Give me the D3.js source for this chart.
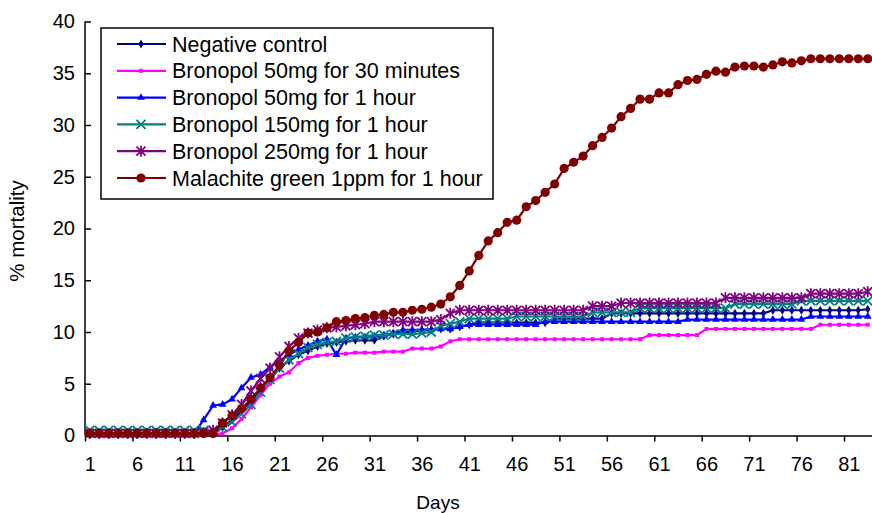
<!DOCTYPE html>
<html>
<head>
<meta charset="utf-8">
<script src="https://cdn.jsdelivr.net/npm/d3@7"></script>
<style>
  body { margin: 0; background: #fff; }
  svg { display: block; font-family: "Liberation Sans", Arial, sans-serif; }
  .axis path, .axis line { stroke: #000; stroke-width: 1.5; }
  .axis text { font-size: 20px; fill: #000; }
  .label { font-size: 19px; fill: #000; }
  .legend text { font-size: 21.5px; fill: #000; }
</style>
</head>
<body>
<div id="chart"></div>
<script>
// categories
let days = d3.range(1, 84);
let xLabels = [1, 6, 11, 16, 21, 26, 31, 36, 41, 46, 51, 56, 61, 66, 71, 76, 81];
let yTicks = [0, 5, 10, 15, 20, 25, 30, 35, 40];

let seriesNames = ["Negative control", "Bronopol 50mg for 30 minutes", "Bronopol 50mg for 1 hour",
    "Bronopol 150mg for 1 hour", "Bronopol 250mg for 1 hour", "Malachite green 1ppm for 1 hour"];

let negControl = [0.2,0.2,0.2,0.2,0.2,0.2,0.2,0.2,0.2,0.2,0.2,0.2,0.2,0.2,
    0.8,1.5,2.4,3.3,4.4,5.4,6.5,7.2,7.8,8.2,8.6,8.9,9.0,9.1,9.2,9.2,
    9.2,9.6,9.8,10.0,10.0,10.2,10.2,10.3,10.3,10.5,10.7,
    10.9,10.9,10.9,10.9,10.9,10.9,10.9,10.9,
    11.3,11.3,11.3,11.3,11.3,11.3,
    11.8,11.8,11.8,11.8,11.8,11.8,11.8,11.8,11.8,11.8,11.8,11.8,11.8,11.8,11.8,11.8,11.8,
    12.1,12.1,12.1,12.1,12.1,12.1,12.1,12.1,12.1,12.1,12.2];

let bro50_30 = [0.1,0.1,0.1,0.1,0.1,0.1,0.1,0.1,0.1,0.1,0.1,0.1,0.1,0.1,
    0.2,0.7,1.6,2.7,3.9,5.0,5.7,6.1,7.0,7.5,7.7,7.8,7.9,7.9,8.0,8.0,
    8.0,8.1,8.1,8.1,8.4,8.4,8.4,8.6,9.1,
    9.3,9.3,9.3,9.3,9.3,9.3,9.3,9.3,9.3,9.3,9.3,9.3,9.3,9.3,9.3,9.3,9.3,9.3,9.3,9.3,
    9.7,9.7,9.7,9.7,9.7,9.7,
    10.3,10.3,10.3,10.3,10.3,10.3,10.3,10.3,10.3,10.3,10.3,10.3,
    10.7,10.7,10.7,10.7,10.7,10.7];

let bro50_60 = [0.2,0.2,0.2,0.2,0.2,0.2,0.2,0.2,0.2,0.2,0.2,0.2,
    1.5,2.9,3.0,3.5,4.6,5.6,5.9,6.6,7.2,7.8,8.3,8.7,9.1,9.3,7.8,9.4,9.5,9.5,
    9.6,9.7,9.9,10.2,10.2,10.2,10.2,10.3,10.3,10.5,
    10.7,10.7,10.7,10.7,10.7,10.7,10.7,10.7,
    11.0,11.0,11.0,11.0,11.0,11.0,11.0,11.0,11.0,11.0,11.0,11.0,11.0,11.0,11.0,
    11.2,11.2,11.2,11.2,11.2,11.2,11.2,11.2,11.2,11.2,11.2,11.2,11.2,
    11.5,11.5,11.5,11.5,11.5,11.5,11.5];

let bro150_60 = [0.5,0.5,0.5,0.5,0.5,0.5,0.5,0.5,0.5,0.5,0.5,0.5,0.5,0.5,
    0.8,1.3,2.1,3.0,4.2,5.4,6.5,7.3,7.9,8.5,8.8,9.0,9.1,9.4,9.5,9.6,
    9.7,9.7,9.8,9.8,9.8,9.9,10.0,10.6,10.8,11.0,
    11.3,11.3,11.3,11.3,11.3,
    11.5,11.5,11.5,11.5,11.5,11.5,11.5,11.5,
    11.9,11.9,11.9,11.9,11.9,
    12.3,12.3,12.3,12.3,12.3,12.3,12.3,12.3,12.3,12.3,
    12.7,12.7,12.7,12.7,12.7,12.7,12.7,
    13.0,13.0,13.0,13.0,13.0,13.0,13.0,13.0];

let bro250_60 = [0.2,0.2,0.2,0.2,0.2,0.2,0.2,0.2,0.2,0.2,0.2,0.2,
    0.3,0.5,1.2,2.0,3.0,4.3,5.5,6.5,7.6,8.6,9.4,9.9,10.2,10.4,10.5,10.6,10.7,10.8,
    11.0,11.0,11.0,11.0,11.0,11.0,11.0,11.2,11.8,
    12.1,12.1,12.1,12.1,12.1,12.1,12.1,12.1,12.1,12.1,12.1,12.1,12.1,12.1,
    12.5,12.5,12.5,
    12.8,12.8,12.8,12.8,12.8,12.8,12.8,12.8,12.8,12.8,12.8,
    13.3,13.3,13.3,13.3,13.3,13.3,13.3,13.3,13.3,
    13.7,13.7,13.7,13.7,13.7,13.7,13.9];

let malachite = [0.2,0.2,0.2,0.2,0.2,0.2,0.2,0.2,0.2,0.2,0.2,0.2,0.2,0.2,
    1.2,1.9,2.6,3.5,4.6,5.6,6.8,8.2,9.0,9.9,10.0,10.4,11.0,11.1,11.3,11.4,
    11.6,11.7,11.9,11.9,12.1,12.2,12.4,12.7,13.4,14.5,
    15.9,17.4,18.8,19.6,20.6,20.8,22.1,22.7,23.5,24.3,
    25.8,26.4,27.0,28.0,28.8,29.7,30.8,31.6,32.5,32.5,
    33.1,33.1,33.9,34.3,34.4,34.9,35.2,35.1,35.6,35.7,
    35.7,35.6,35.8,36.1,36.0,36.2,36.4,36.4,36.4,36.4,36.4,36.4,36.4];

let seriesValues = [negControl, bro50_30, bro50_60, bro150_60, bro250_60, malachite];
let colors = ["#000080", "#ff00ff", "#0000ff", "#008080", "#800080", "#800000"];
let markers = ["diamond", "square", "triangle", "x", "star", "circle"];

let W = 872, H = 513;
let svg = d3.select("#chart").append("svg")
    .attr("width", W)
    .attr("height", H);

let xScale = d3.scaleLinear().domain([0.5, 83.5]).range([85, 872.5]);
let yScale = d3.scaleLinear().domain([0, 40]).range([435.5, 21.5]);

// y axis, inside ticks
svg.append("g")
    .attr("class", "axis")
    .attr("transform", "translate(85,0)")
    .call(d3.axisLeft(yScale).tickValues(yTicks).tickSizeInner(-6).tickSizeOuter(0).tickPadding(10))
    .call(g => g.select(".domain").attr("d", "M0," + yScale(40) + "V" + yScale(0)));

// x axis: tick marks at category boundaries, labels at category centres
svg.append("g")
    .attr("class", "axis")
    .attr("transform", "translate(0," + yScale(0) + ")")
    .call(d3.axisBottom(xScale).tickValues(xLabels.map(d => d - 0.5)).tickSizeInner(6).tickSizeOuter(0).tickFormat(""));

svg.append("g")
    .attr("class", "axis")
    .attr("transform", "translate(0," + yScale(0) + ")")
    .call(d3.axisBottom(xScale).tickValues(xLabels).tickSize(0).tickPadding(21))
    .call(g => g.select(".domain").remove());

svg.append("text")
    .attr("class", "label")
    .attr("x", 438)
    .attr("y", 509)
    .attr("text-anchor", "middle")
    .text("Days");

svg.append("text")
    .attr("class", "label")
    .style("font-size", "20.5px")
    .attr("transform", "translate(24,231) rotate(-90)")
    .attr("text-anchor", "middle")
    .text("% mortality");

function drawMarker(g, type, color) {
    if (type === "x") {
        g.append("path").attr("d", "M-4.5,-4.5L4.5,4.5M-4.5,4.5L4.5,-4.5")
            .attr("stroke", color).attr("stroke-width", 1.8).attr("fill", "none");
    } else if (type === "star") {
        g.append("path").attr("d", "M-4.5,-4.5L4.5,4.5M-4.5,4.5L4.5,-4.5M0,-5.5V5.5")
            .attr("stroke", color).attr("stroke-width", 1.8).attr("fill", "none");
    } else if (type === "circle") {
        g.append("circle").attr("r", 4.6).attr("fill", color);
    } else {
        let sym = {diamond: d3.symbolDiamond, square: d3.symbolSquare, triangle: d3.symbolTriangle}[type];
        let size = {diamond: 24, square: 16, triangle: 26}[type];
        g.append("path").attr("d", d3.symbol(sym, size)()).attr("fill", color);
    }
}

let line = d3.line()
    .x((d, i) => xScale(days[i]))
    .y(d => yScale(d));

seriesValues.forEach((vals, s) => {
    let g = svg.append("g");
    g.append("path")
        .datum(vals)
        .attr("d", line)
        .attr("fill", "none")
        .attr("stroke", colors[s])
        .attr("stroke-width", 2.2);
    g.selectAll(".pt")
        .data(vals)
        .enter()
        .append("g")
        .attr("transform", (d, i) => "translate(" + xScale(days[i]) + "," + yScale(d) + ")")
        .each(function () { drawMarker(d3.select(this), markers[s], colors[s]); });
});

// legend
let legend = svg.append("g").attr("class", "legend");
legend.append("rect")
    .attr("x", 101).attr("y", 28)
    .attr("width", 392).attr("height", 171)
    .attr("fill", "#fff")
    .attr("stroke", "#000")
    .attr("stroke-width", 1.5);

seriesNames.forEach((name, s) => {
    let yy = 44 + s * 26.8;
    legend.append("line")
        .attr("x1", 117).attr("x2", 166)
        .attr("y1", yy).attr("y2", yy)
        .attr("stroke", colors[s]).attr("stroke-width", 2.2);
    let m = legend.append("g").attr("transform", "translate(141," + yy + ")");
    drawMarker(m, markers[s], colors[s]);
    legend.append("text")
        .attr("x", 172)
        .attr("y", yy + 7.5)
        .text(name);
});
</script>
</body>
</html>
